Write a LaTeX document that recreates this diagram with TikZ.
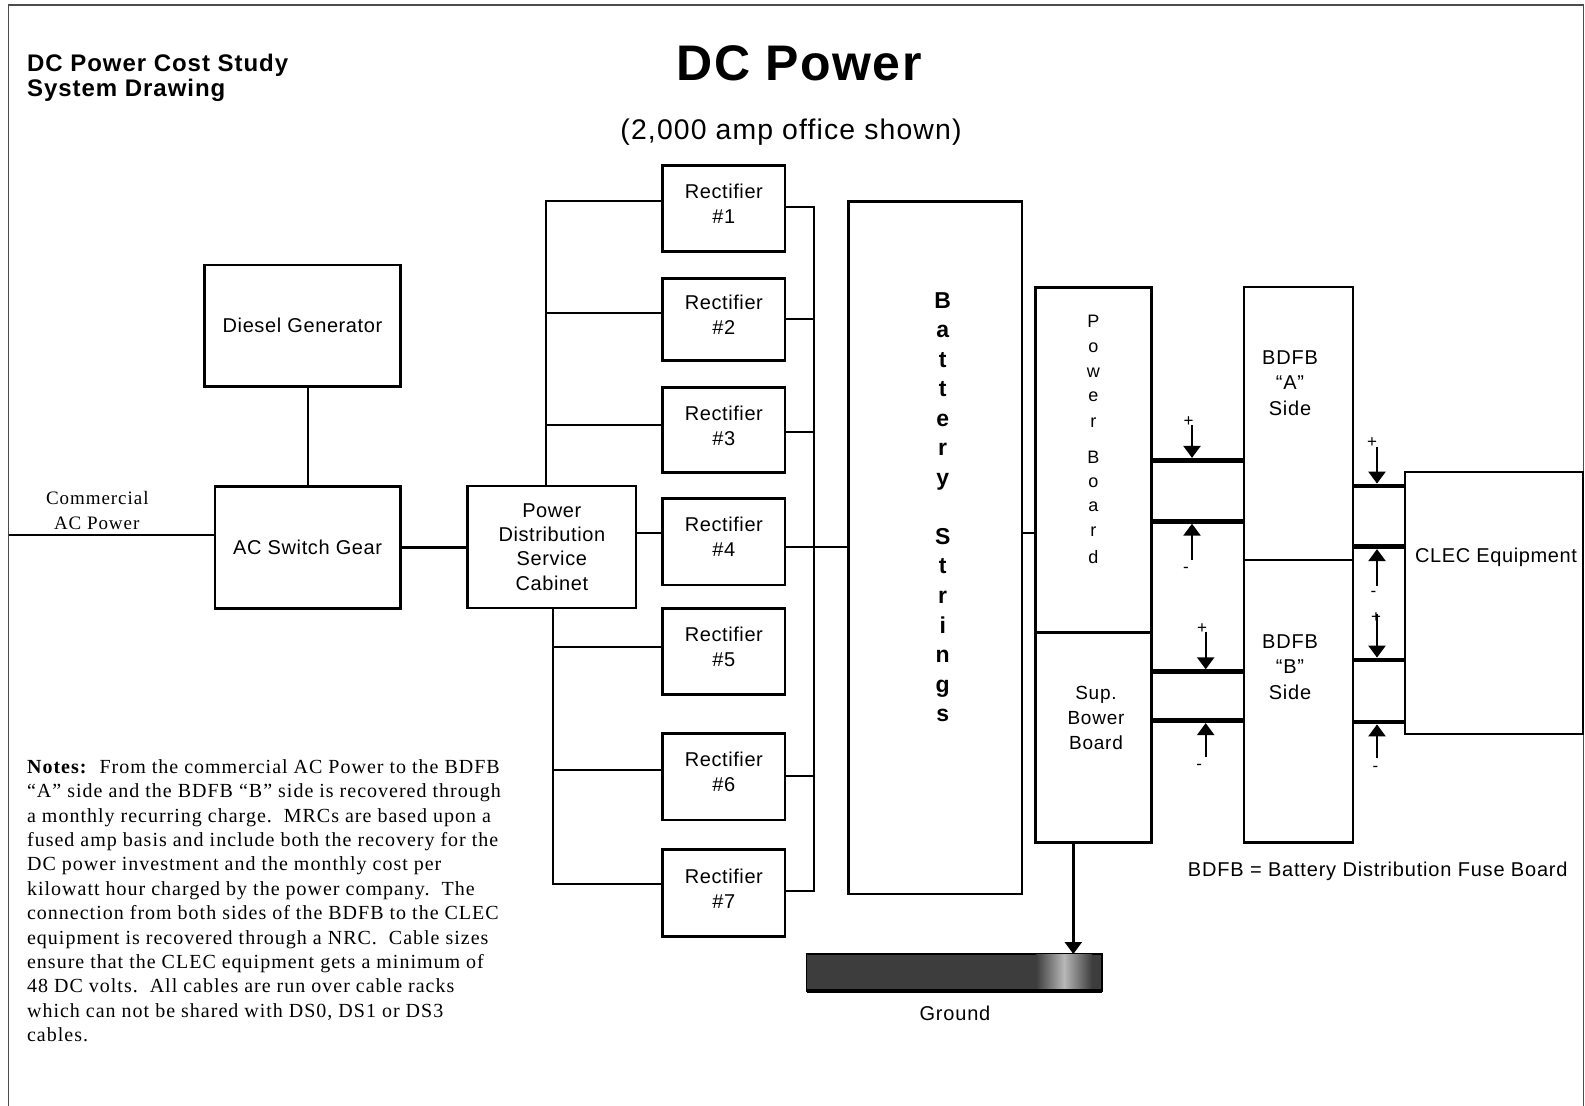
\documentclass[tikz,border=0pt]{standalone}
\usepackage{fontspec}
\setmainfont{Liberation Sans}[LetterSpace=3]
\newfontfamily\wsans{Liberation Sans}[LetterSpace=4]
\newfontfamily\nserif{Liberation Serif}[LetterSpace=5]
\usetikzlibrary{arrows.meta}
\begin{document}
\begin{tikzpicture}[x=0.5pt,y=-0.5pt,
  box/.style={draw,line width=1.45pt,inner sep=0pt,outer sep=0pt,align=center,font=\fontsize{10}{12.5}\selectfont},
  conn/.style={line width=1.1pt},
  barline/.style={line width=2.3pt},
  arr/.style={line width=1.2pt,-{Triangle[length=6pt,width=8.5pt]}},
  sign/.style={inner sep=0pt,font=\fontsize{8.5}{9}\selectfont},
  txt/.style={inner sep=0pt,align=center},
  framel/.style={line width=0.7pt,draw=black!70}]
\useasboundingbox (0,0) rectangle (1585,1106);
% frame
\draw[framel] (8.5,1106) -- (8.5,5) -- (1583.3,5) -- (1583.3,1106);

% titles
\node[inner sep=0pt,anchor=base,font=\fontsize{25}{30}\selectfont\bfseries] (ttl) at (799,81) {DC Power};
\node[inner sep=0pt,anchor=base,font=\wsans\fontsize{14.2}{17}\selectfont] (subt) at (791,139.5) {(2,000 amp office shown)};
\node[inner sep=0pt,anchor=base west,font=\wsans\fontsize{12}{14}\selectfont\bfseries] (hdr1) at (26.7,71.7) {DC Power Cost Study};
\node[inner sep=0pt,anchor=base west,font=\wsans\fontsize{12}{14}\selectfont\bfseries] (hdr2) at (26.7,96.7) {System Drawing};

% left boxes
\node[box,minimum width=97.8pt,minimum height=60.85pt] (dg) at (302.5,325.85) {Diesel Generator};
\node[box,minimum width=92.65pt,minimum height=60.8pt] (acsg) at (307.65,547.5) {AC Switch Gear};
\node[box,minimum width=84.15pt,minimum height=61pt,font=\fontsize{10}{12.2}\selectfont] (pdsc) at (551.85,547) {Power\\Distribution\\Service\\Cabinet};

\node[txt,font=\nserif\fontsize{9.5}{12}\selectfont] (cm1) at (97.3,497.7) {Commercial};
\node[txt,font=\nserif\fontsize{9.5}{12}\selectfont] (cm2) at (96.7,523.3) {AC Power};
\coordinate (cml) at (8.7,535);
\draw[conn] (cml) -- (cml -| acsg.west);
\draw[conn] (dg.south -| acsg.north) -- (acsg.north);
\draw[conn] (acsg.east) -- (acsg.east -| pdsc.west);

% rectifiers
\foreach \i/\cy/\h in {1/208.7/43pt,2/319.5/41.2pt,3/430/42.7pt,4/541.65/43.35pt,5/651.3/43pt,6/776.65/43.35pt,7/893/43.7pt}
  \node[box,minimum width=61.15pt,minimum height=\h] (r\i) at (723.85,\cy) {Rectifier\\\#\i\rule[-4.5pt]{0pt}{4.5pt}};

% upper input bus
\coordinate (ub1) at (545.7,201);
\coordinate (ub2) at (545.7,312.7);
\coordinate (ub3) at (545.7,425);
\draw[conn] (pdsc.north -| ub1) -- (ub1) -- (ub1 -| r1.west);
\draw[conn] (ub2) -- (ub2 -| r2.west);
\draw[conn] (ub3) -- (ub3 -| r3.west);
\coordinate (p4) at (650,533);
\draw[conn] (pdsc.east |- p4) -- (p4 -| r4.west);
% lower input bus
\coordinate (lb5) at (552.7,646.7);
\coordinate (lb6) at (552.7,770);
\coordinate (lb7) at (552.7,884.3);
\draw[conn] (pdsc.south -| lb5) -- (lb7) -- (lb7 -| r7.west);
\draw[conn] (lb5) -- (lb5 -| r5.west);
\draw[conn] (lb6) -- (lb6 -| r6.west);
% output bus
\coordinate (rb1) at (814.3,206.7);
\coordinate (rb2) at (814.3,319);
\coordinate (rb3) at (814.3,431.7);
\coordinate (rb4) at (814.3,547);
\coordinate (rb6) at (814.3,775.7);
\coordinate (rb7) at (814.3,890.7);
\draw[conn] (r1.east |- rb1) -- (rb1) -- (rb7) -- (r7.east |- rb7);
\draw[conn] (r2.east |- rb2) -- (rb2);
\draw[conn] (r3.east |- rb3) -- (rb3);
\draw[conn] (r6.east |- rb6) -- (rb6);

% battery strings
\node[box,minimum width=86.85pt,minimum height=346.15pt] (bat) at (935.15,547.85) {};
\draw[conn] (r4.east |- rb4) -- (rb4 -| bat.west);
\foreach \l/\yy [count=\k] in {B/308.5,a/338,t/367.5,t/397,e/426.5,r/456,y/485.5,S/544.5,t/574,r/603.5,i/633,n/662.5,g/692,s/721.5}
  \node[inner sep=0pt,anchor=base,font=\fontsize{11.5}{14}\selectfont\bfseries] (bs\k) at (942.7,\yy) {\l};

% power board
\node[box,minimum width=58pt,minimum height=172.5pt] (pb) at (1093.7,459.8) {};
\node[box,minimum width=58pt,minimum height=105.2pt] (sup) at (1093.7,737.5) {};
\foreach \l/\yy [count=\k] in {P/327.7,o/352.3,w/377.5,e/401.8,r/427.1,B/463.2,o/487.8,a/512,r/536.3,d/563.2}
  \node[inner sep=0pt,anchor=base,font=\fontsize{9}{10}\selectfont] (pl\k) at (1093.3,\yy) {\l};
\node[txt,font=\wsans\fontsize{9.5}{12.5}\selectfont] (supT) at (1096,718.3) {Sup.\\Bower\\Board};
\coordinate (bp) at (1028,532.7);
\draw[conn] (bat.east |- bp) -- (bp -| pb.west);

% ground
\node[draw=black,line width=0.6pt,fill=black!76,minimum width=147.65pt,minimum height=18.5pt,inner sep=0pt,outer sep=0pt] (gnd) at (954.35,972.5) {};
\shade[left color=black!76,right color=black!76,middle color=black!28] (1036,954.8) rectangle (1092,988.5);
\draw[line width=1.6pt] (gnd.south west) -- (gnd.south east);
\coordinate (gt) at (1073.3,954);
\draw[arr] (sup.south -| gt) -- (gt |- gnd.north);
\node[txt,font=\wsans\fontsize{10}{12}\selectfont] (gndT) at (955,1013) {Ground};

% BDFB
\node[box,minimum width=54.5pt,minimum height=136.5pt] (ba) at (1298.5,423.5) {};
\node[box,minimum width=54.5pt,minimum height=141.35pt] (bb) at (1298.5,701.35) {};
\node[txt,font=\wsans\fontsize{10}{12.7}\selectfont] (baT) at (1290,383) {BDFB\\“A”\\Side};
\node[txt,font=\wsans\fontsize{10}{12.7}\selectfont] (bbT) at (1290,667) {BDFB\\“B”\\Side};

% CLEC
\node[box,minimum width=89pt,minimum height=131pt] (clec) at (1494,603) {};
\node[txt,font=\fontsize{10}{12}\selectfont] (clecT) at (1496,557) {CLEC Equipment};

% bars
\coordinate (lbar1) at (1200,460.3);
\coordinate (lbar2) at (1200,521.3);
\coordinate (lbar3) at (1200,671.7);
\coordinate (lbar4) at (1200,720.7);
\draw[barline] (pb.east |- lbar1) -- (lbar1 -| ba.west);
\draw[barline] (pb.east |- lbar2) -- (lbar2 -| ba.west);
\draw[barline] (sup.east |- lbar3) -- (lbar3 -| bb.west);
\draw[barline] (sup.east |- lbar4) -- (lbar4 -| bb.west);
\coordinate (rbar1) at (1380,486);
\coordinate (rbar2) at (1380,546.7);
\coordinate (rbar3) at (1380,660);
\coordinate (rbar4) at (1380,722);
\draw[barline] (ba.east |- rbar1) -- (rbar1 -| clec.west);
\draw[barline] (ba.east |- rbar2) -- (rbar2 -| clec.west);
\draw[barline] (bb.east |- rbar3) -- (rbar3 -| clec.west);
\draw[barline] (bb.east |- rbar4) -- (rbar4 -| clec.west);

% arrows
\coordinate (ta1) at (1192,425);
\coordinate (ta2) at (1192,560);
\coordinate (ta3) at (1205.7,631.7);
\coordinate (ta4) at (1205.7,756.7);
\draw[arr] (ta1) -- ([yshift=1.2pt]ta1 |- lbar1);
\draw[arr] (ta2) -- ([yshift=-1.2pt]ta2 |- lbar2);
\draw[arr] (ta3) -- ([yshift=1.2pt]ta3 |- lbar3);
\draw[arr] (ta4) -- ([yshift=-1.2pt]ta4 |- lbar4);
\coordinate (tb1) at (1377,447);
\coordinate (tb2) at (1377,586);
\coordinate (tb3) at (1377,614);
\coordinate (tb4) at (1377,758);
\draw[arr] (tb1) -- ([yshift=1.2pt]tb1 |- rbar1);
\draw[arr] (tb2) -- ([yshift=-1.2pt]tb2 |- rbar2);
\draw[arr] (tb3) -- ([yshift=1.2pt]tb3 |- rbar3);
\draw[arr] (tb4) -- ([yshift=-1.2pt]tb4 |- rbar4);
\node[sign] (s1) at (1188.6,421.8) {+};
\node[sign] (s2) at (1186,570) {-};
\node[sign] (s3) at (1202,629) {+};
\node[sign] (s4) at (1199.3,766.7) {-};
\node[sign] (s5) at (1372,443) {+};
\node[sign] (s6) at (1373.5,593.6) {-};
\node[sign] (s7) at (1376,618) {+};
\node[sign] (s8) at (1375.5,768.5) {-};

% legend
\node[txt,font=\wsans\fontsize{10}{12}\selectfont] (leg) at (1377.75,871.7) {BDFB = Battery Distribution Fuse Board};

% notes
\foreach \t [count=\k] in {
 {\textbf{Notes:}\ \ From the commercial AC Power to the BDFB},
 {“A” side and the BDFB “B” side is recovered through},
 {a monthly recurring charge.\ \ MRCs are based upon a},
 {fused amp basis and include both the recovery for the},
 {DC power investment and the monthly cost per},
 {kilowatt hour charged by the power company.\ \ The},
 {connection from both sides of the BDFB to the CLEC},
 {equipment is recovered through a NRC.\ \ Cable sizes},
 {ensure that the CLEC equipment gets a minimum of},
 {48 DC volts.\ \ All cables are run over cable racks},
 {which can not be shared with DS0, DS1 or DS3},
 {cables.}}
  \node[inner sep=0pt,anchor=base west,font=\nserif\fontsize{10}{12.2}\selectfont] (note\k) at (26.7,{773.3+24.4*(\k-1)}) {\t};
\end{tikzpicture}
\end{document}
